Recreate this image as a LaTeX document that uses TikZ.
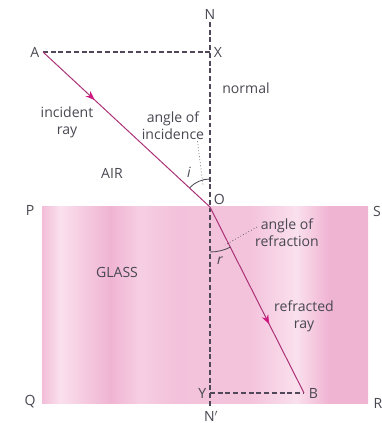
\documentclass[tikz,border=0pt]{standalone}
\usepackage{fontspec}
\setmainfont{Open Sans}
\usepackage{tikz}
\usetikzlibrary{arrows.meta,positioning,calc,decorations.markings}
\definecolor{inkgrey}{RGB}{72,72,82}
\definecolor{dashgrey}{RGB}{80,72,88}
\definecolor{raycol}{RGB}{170,50,118}
\definecolor{tipcol}{RGB}{205,25,128}
\definecolor{gdark}{RGB}{240,180,211}
\definecolor{glight}{RGB}{250,224,237}
\pgfdeclarehorizontalshading{glassshade}{100bp}{%
  color(0bp)=(gdark!80!glight); color(25bp)=(gdark!80!glight);
  color(27.75bp)=(glight); color(30bp)=(glight!70!gdark);
  color(35.5bp)=(gdark); color(40bp)=(glight!60!gdark);
  color(45.5bp)=(gdark!70!glight); color(57bp)=(gdark!65!glight);
  color(64bp)=(glight); color(69bp)=(gdark); color(75bp)=(gdark); color(100bp)=(gdark)}

\begin{document}
\begin{tikzpicture}[x=0.03cm, y=0.03cm,
    lbl/.style={text=inkgrey, font=\fontsize{12}{14.5}\selectfont, align=center, inner sep=1pt},
    guide/.style={dashgrey, line width=1pt, dash pattern=on 4.2pt off 2.4pt},
    ray/.style={raycol, line width=0.85pt},
    midtip/.style={postaction={decorate}, decoration={markings,
        mark=at position #1 with {\arrow[tipcol]{Stealth[length=8pt,width=6pt]}}}},
    pointer/.style={inkgrey, dotted, line width=0.6pt},
    anglearc/.style={inkgrey, line width=0.7pt}]
\useasboundingbox (0,0) rectangle (381,423);

% glass block
\shade[shading=glassshade] (42,19) rectangle (368,216);

% points
\coordinate (O) at (210,216);
\coordinate (A) at (43,371);
\coordinate (X) at (210,371);
\coordinate (B) at (304,30);
\coordinate (Y) at (210,30);
\coordinate (Ntop) at (210,401);
\coordinate (Nbot) at (210,16);

% normal and construction lines
\draw[guide] (Ntop) -- (Nbot);
\draw[guide] (A) -- (X);
\draw[guide] (Y) -- (B);

% rays
\draw[ray, midtip=0.31] (A) -- (O);
\draw[ray, midtip=0.63] (O) -- (B);

% angles
\draw[anglearc] (O) ++(90:28) arc[start angle=90, end angle=137, radius=28];
\draw[anglearc] (O) ++(270:45) arc[start angle=270, end angle=297, radius=45];

% point labels
\node[lbl, above=1pt of Ntop] (labN) {N};
\node[lbl, inner sep=0pt] (labNp) at (211,7) {N$'$};
\node[lbl, left=2pt of A] (labA) {A};
\node[lbl, right=2pt of X] (labX) {X};
\node[lbl, left=2pt of Y] (labY) {Y};
\node[lbl, right=3pt of B] (labB) {B};
\node[lbl, above right=1pt and 2pt of O] (labO) {O};
\node[lbl] (labP) at (30,213) {P};
\node[lbl] (labS) at (377,212) {S};
\node[lbl] (labQ) at (30,21) {Q};
\node[lbl] (labR) at (378,20) {R};

% text labels
\node[lbl] (normLbl) at (246,335) {normal};
\node[lbl] (incRay) at (67,301) {incident\\ray};
\node[lbl] (incLbl) at (173,297) {angle of\\incidence};
\node[lbl] (airLbl) at (112,250) {AIR};
\node[lbl] (iLbl) at (189,251) {\textit{i}};
\node[lbl] (refLbl) at (287,190) {angle of\\refraction};
\node[lbl] (rLbl) at (220,162) {\textit{r}};
\node[lbl] (glassLbl) at (117,151) {GLASS};
\node[lbl] (refRay) at (304,107) {refracted\\ray};

% pointers to the angles
\coordinate (incEnd) at (203,238);
\coordinate (refStart) at (257,196);
\coordinate (refEnd) at (225,178);
\draw[pointer] (incLbl.south east) ++(-8,0) -- (incEnd);
\draw[pointer] (refStart) -- (refEnd);
\end{tikzpicture}
\end{document}
